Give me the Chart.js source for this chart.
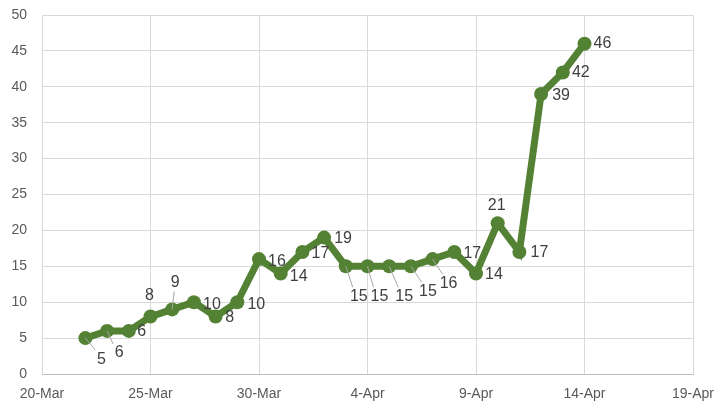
<!DOCTYPE html>
<html>
<head>
<meta charset="utf-8">
<script src="https://cdn.jsdelivr.net/npm/chart.js@4"></script>
<style>
  html, body { margin: 0; padding: 0; background: #fff; }
  #wrap { width: 720px; height: 405px; }
</style>
</head>
<body>
<div id="wrap"><canvas id="myChart" width="720" height="405"></canvas></div>
<script>
// dates of each point and the count for that day
const dates = ["22-Mar", "23-Mar", "24-Mar", "25-Mar", "26-Mar", "27-Mar", "28-Mar", "29-Mar",
  "30-Mar", "31-Mar", "1-Apr", "2-Apr", "3-Apr", "4-Apr", "5-Apr", "6-Apr", "7-Apr", "8-Apr",
  "9-Apr", "10-Apr", "11-Apr", "12-Apr", "13-Apr", "14-Apr"];
const counts = [5, 6, 6, 8, 9, 10, 8, 10, 16, 14, 17, 19, 15, 15, 15, 15, 16, 17, 14, 21, 17, 39, 42, 46];
const xTickLabels = ["20-Mar", "25-Mar", "30-Mar", "4-Apr", "9-Apr", "14-Apr", "19-Apr"];
const yTicks = [0, 5, 10, 15, 20, 25, 30, 35, 40, 45, 50];

// where each value label sits relative to its point (px), and if it gets a leader line
const labelPos = [
  [16, 21, true], [12, 22, true], [13, 1, false], [-1, -21, false], [3, -27, true],
  [18, 2, false], [14, 1, false], [19, 2, false], [18, 2, false], [18, 3, false],
  [18, 2, false], [19, 1, false], [13, 30, true], [12, 30, true], [15, 30, true],
  [17, 25, true], [16, 24, true], [18, 2, false], [18, 1, false], [-1, -18, false],
  [20, 1, false], [20, 2, false], [18, 0, false], [18, 0, false]
];

const monthIdx = { Mar: 2, Apr: 3 };
function dayOf(s) {
  var p = s.split("-");
  return (Date.UTC(2020, monthIdx[p[1]], +p[0]) - Date.UTC(2020, 2, 20)) / 86400000;
}

const points = dates.map((d, i) => ({ x: dayOf(d), y: counts[i] }));

const valueLabels = {
  id: "valueLabels",
  afterDatasetsDraw(chart) {
    const ctx = chart.ctx;
    const meta = chart.getDatasetMeta(0);
    ctx.save();
    ctx.font = "16px 'Liberation Sans', Arial, sans-serif";
    ctx.fillStyle = "#404040";
    ctx.textAlign = "center";
    ctx.textBaseline = "middle";
    meta.data.forEach((pt, i) => {
      const o = labelPos[i];
      const lx = pt.x + o[0], ly = pt.y + o[1];
      if (o[2]) {
        ctx.strokeStyle = "#a6a6a6";
        ctx.lineWidth = 1;
        ctx.beginPath();
        ctx.moveTo(pt.x, pt.y);
        if (o[1] > 0) {
          ctx.lineTo(lx - 6, ly - 9);
        } else {
          ctx.lineTo(lx - 1, ly + 9);
        }
        ctx.stroke();
      }
      ctx.fillText(String(counts[i]), lx, ly);
    });
    ctx.restore();
  }
};

const ctx = document.getElementById("myChart").getContext("2d");
const myChart = new Chart(ctx, {
  type: "line",
  data: {
    datasets: [{
      data: points,
      borderColor: "#548235",
      backgroundColor: "#548235",
      borderWidth: 7,
      pointRadius: 7,
      pointHoverRadius: 7,
      pointBorderWidth: 0,
      tension: 0
    }]
  },
  options: {
    responsive: false,
    animation: false,
    layout: { padding: { top: 15, right: 27, left: 0, bottom: 0 } },
    plugins: { legend: { display: false }, tooltip: { enabled: false } },
    scales: {
      x: {
        type: "linear",
        min: 0,
        max: 30,
        afterBuildTicks(scale) {
          scale.ticks = xTickLabels.map(dayOf).map(v => ({ value: v }));
        },
        afterFit(scale) {
          scale.height = 31;
          scale.paddingLeft = 0;
          scale.paddingRight = 0;
        },
        grid: { color: "#d9d9d9", drawTicks: false },
        border: { color: "#bfbfbf" },
        ticks: {
          color: "#595959",
          font: { family: "'Liberation Sans', Arial, sans-serif", size: 14 },
          padding: 12,
          maxRotation: 0,
          callback: (v, i) => xTickLabels[i]
        }
      },
      y: {
        min: 0,
        max: 50,
        afterBuildTicks(scale) {
          scale.ticks = yTicks.map(v => ({ value: v }));
        },
        afterFit(scale) {
          scale.width = 42;
          scale.paddingTop = 0;
          scale.paddingBottom = 0;
        },
        grid: { color: "#d9d9d9", drawTicks: false },
        border: { display: false },
        ticks: {
          color: "#595959",
          font: { family: "'Liberation Sans', Arial, sans-serif", size: 14 },
          padding: 15
        }
      }
    }
  },
  plugins: [valueLabels]
});
</script>
</body>
</html>
